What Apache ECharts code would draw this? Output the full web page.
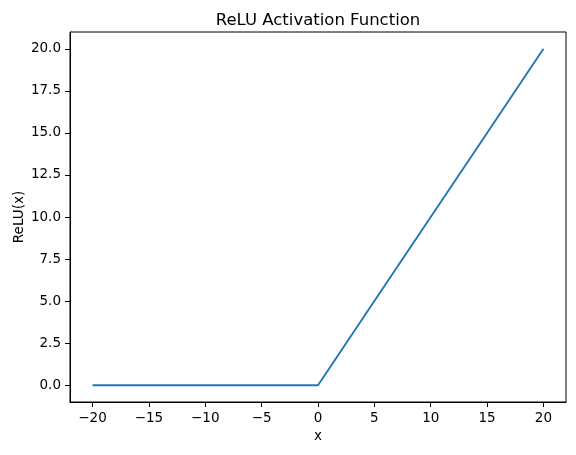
<!DOCTYPE html>
<html>
<head>
<meta charset="utf-8">
<script src="https://cdn.jsdelivr.net/npm/echarts@6/dist/echarts.min.js"></script>
<style>html,body{margin:0;padding:0;background:#fff}#c{width:576px;height:455px}</style>
</head>
<body>
<div id="c"></div>
<script>
const xValues = [-20, -15, -10, -5, 0, 5, 10, 15, 20];
const reluValues = [0, 0, 0, 0, 0, 5, 10, 15, 20];
const xTicks = [-20, -15, -10, -5, 0, 5, 10, 15, 20];
const yTicks = [0, 2.5, 5, 7.5, 10, 12.5, 15, 17.5, 20];

const FONT = 'DejaVu Sans';
const chart = echarts.init(document.getElementById('c'), null, {renderer: 'canvas'});
chart.setOption({
  animation: false,
  backgroundColor: '#fff',
  title: {
    text: 'ReLU Activation Function',
    left: 313, top: 7, textAlign: 'center',
    textStyle: {fontFamily: FONT, fontSize: 16.5, fontWeight: 'normal', color: '#000'}
  },
  grid: {left: 70, right: 10, top: 32, bottom: 53, show: true, borderColor: '#000', borderWidth: 1,
    containLabel: false, outerBoundsMode: 'none'},
  xAxis: {
    type: 'value', min: -22, max: 22,
    name: 'x', nameLocation: 'middle', nameGap: 27, nameMoveOverlap: false,
    nameTextStyle: {fontFamily: FONT, fontSize: 13.5, color: '#000'},
    axisLine: {show: true, onZero: false, lineStyle: {color: '#000', width: 1}},
    axisTick: {show: true, length: 5, lineStyle: {color: '#000'}, customValues: xTicks},
    axisLabel: {fontFamily: FONT, fontSize: 13.5, color: '#000', margin: 9, customValues: xTicks,
      formatter: v => String(v).replace('-', '\u2212')},
    splitLine: {show: false}
  },
  yAxis: {
    type: 'value', min: -1, max: 21,
    name: 'ReLU(x)', nameLocation: 'middle', nameGap: 44, nameMoveOverlap: false,
    nameTextStyle: {fontFamily: FONT, fontSize: 13.5, color: '#000'},
    axisLine: {show: true, onZero: false, lineStyle: {color: '#000', width: 1}},
    axisTick: {show: true, length: 5, lineStyle: {color: '#000'}, customValues: yTicks},
    axisLabel: {fontFamily: FONT, fontSize: 13.5, color: '#000', margin: 9, customValues: yTicks,
      formatter: v => v.toFixed(1)},
    splitLine: {show: false}
  },
  series: [{
    type: 'line',
    data: xValues.map((x, i) => [x, reluValues[i]]),
    showSymbol: false,
    lineStyle: {color: '#1f77b4', width: 1.9},
    itemStyle: {color: '#1f77b4'}
  }]
});
</script>
</body>
</html>
